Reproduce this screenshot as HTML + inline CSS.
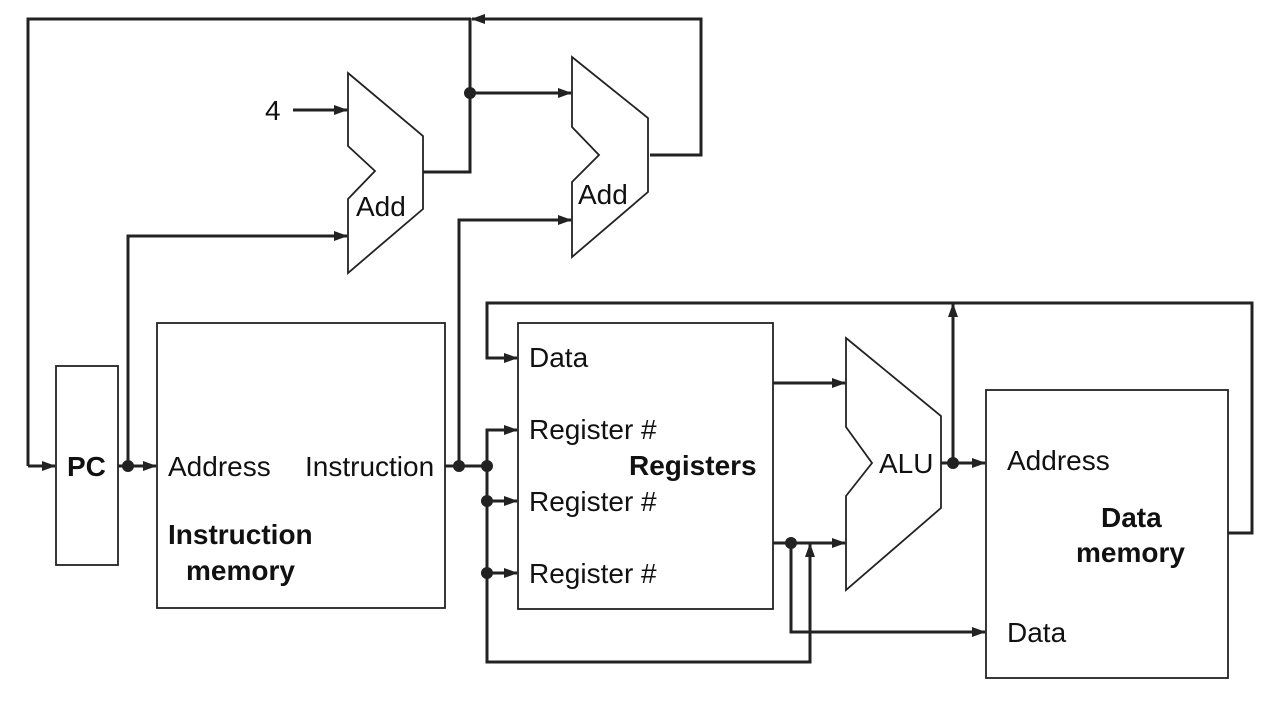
<!DOCTYPE html>
<html><head><style>body{margin:0;background:#fff}svg{display:block}text{font-family:"Liberation Sans",Arial,sans-serif;fill:#111}</style></head>
<body>
<svg width="1280" height="704" viewBox="0 0 1280 704" xmlns="http://www.w3.org/2000/svg">
<defs><marker id="a" markerWidth="14" markerHeight="10" refX="13" refY="5" orient="auto" markerUnits="userSpaceOnUse"><path d="M0,0 L14,5 L0,10 z" fill="#222"/></marker></defs>
<g fill="none" stroke="#222" stroke-width="3">
<polyline points="28,466 28,19 471,19"/>
<polyline points="28,466 55,466" marker-end="url(#a)"/>
<polyline points="650,155 701,155 701,19 472,19" marker-end="url(#a)"/>
<polyline points="423,172 470,172 470,18"/>
<line x1="470" y1="93" x2="571" y2="93" marker-end="url(#a)"/>
<line x1="293" y1="110" x2="347" y2="110" marker-end="url(#a)"/>
<polyline points="128,466 128,236 347,236" marker-end="url(#a)"/>
<line x1="118" y1="466" x2="156" y2="466" marker-end="url(#a)"/>
<polyline points="445,466 459,466 459,220 571,220" marker-end="url(#a)"/>
<line x1="459" y1="466" x2="487" y2="466"/>
<polyline points="487,466 487,430 517,430" marker-end="url(#a)"/>
<polyline points="487,466 487,662 810,662 810,544" marker-end="url(#a)"/>
<line x1="487" y1="501" x2="517" y2="501" marker-end="url(#a)"/>
<line x1="487" y1="573" x2="517" y2="573" marker-end="url(#a)"/>
<line x1="773" y1="383" x2="845" y2="383" marker-end="url(#a)"/>
<line x1="773" y1="543" x2="845" y2="543" marker-end="url(#a)"/>
<polyline points="791,543 791,632 985,632" marker-end="url(#a)"/>
<line x1="941" y1="463" x2="985" y2="463" marker-end="url(#a)"/>
<line x1="953" y1="463" x2="953" y2="304" marker-end="url(#a)"/>
<polyline points="1228,533 1252,533 1252,303 487,303 487,358 517,358" marker-end="url(#a)"/>
</g>
<g fill="#fff" stroke="#222" stroke-width="1.8">
<rect x="56" y="366" width="62" height="199"/>
<rect x="157" y="323" width="288" height="285"/>
<rect x="518" y="323" width="255" height="286"/>
<rect x="986" y="390" width="242" height="288"/>
<polygon points="348,73 423,136 423,209 348,273 348,199 375,171 348,146"/>
<polygon points="572,57 648,118 648,192 572,257 572,182 599,155 572,127"/>
<polygon points="846,338 941,416 941,508 846,590 846,496 872,463 846,427"/>
</g>
<g fill="#222">
<circle cx="470" cy="93" r="6"/><circle cx="128" cy="466" r="6"/><circle cx="459" cy="466" r="6"/>
<circle cx="487" cy="466" r="6"/><circle cx="487" cy="501" r="6"/><circle cx="487" cy="573" r="6"/>
<circle cx="791" cy="543" r="6"/><circle cx="953" cy="463" r="6"/>
</g>
<g font-size="28">
<text x="265" y="120">4</text>
<text x="356" y="216">Add</text>
<text x="578" y="204">Add</text>
<text x="168" y="476">Address</text>
<text x="305" y="476">Instruction</text>
<text x="529" y="367">Data</text>
<text x="529" y="439">Register #</text>
<text x="529" y="511">Register #</text>
<text x="529" y="583">Register #</text>
<text x="879" y="473">ALU</text>
<text x="1007" y="470">Address</text>
<text x="1007" y="642">Data</text>
</g>
<g font-size="28" font-weight="bold">
<text x="67" y="476">PC</text>
<text x="168" y="544">Instruction</text>
<text x="186" y="580">memory</text>
<text x="629" y="475">Registers</text>
<text x="1101" y="527">Data</text>
<text x="1076" y="562">memory</text>
</g>
</svg>
</body></html>
